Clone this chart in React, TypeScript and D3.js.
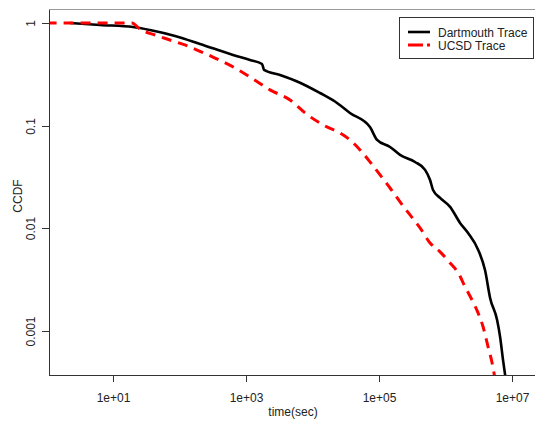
import React, { useEffect, useRef } from 'react';
import * as d3 from 'd3';

// Dartmouth trace (time in sec, CCDF)
const dartTime = [2.25, 6.4, 20, 36, 86, 204, 641, 1156, 1754, 1880, 3273, 6550, 13100, 22000, 37000, 74000, 94600, 148500, 210000, 353000, 500000, 594000, 659000, 841000, 1.19e6, 1.68e6, 2.22e6, 3.14e6, 4.0e6, 4.76e6, 6.07e6, 6.73e6, 7.46e6, 8.4e6];
const dartCcdf = [1, 0.956, 0.914, 0.855, 0.747, 0.625, 0.488, 0.436, 0.399, 0.35, 0.312, 0.262, 0.208, 0.172, 0.133, 0.097, 0.0726, 0.062, 0.0519, 0.0443, 0.0371, 0.0296, 0.0236, 0.0198, 0.0162, 0.0113, 0.009, 0.0062, 0.0039, 0.0021, 0.00128, 0.00088, 0.00052, 0.0003];

// UCSD trace
const ucsdTime = [1, 19.3, 25.5, 43, 72, 121, 204, 343, 687, 1156, 2312, 4630, 7800, 15600, 26200, 37100, 52500, 74200, 105000, 148500, 210000, 297000, 420000, 594000, 841000, 1.19e6, 1.57e6, 2.0e6, 2.55e6, 3.14e6, 3.73e6, 4.44e6, 5.1e6, 5.7e6];
const ucsdCcdf = [1, 1, 0.87, 0.764, 0.683, 0.611, 0.53, 0.456, 0.365, 0.298, 0.223, 0.178, 0.133, 0.0993, 0.0849, 0.0726, 0.058, 0.0443, 0.0331, 0.0247, 0.0181, 0.0135, 0.0101, 0.0072, 0.0059, 0.0046, 0.0037, 0.0027, 0.002, 0.0015, 0.0011, 0.0007, 0.00049, 0.00033];

const xTicks = [10, 1e3, 1e5, 1e7];
const yTicks = [1, 0.1, 0.01, 0.001];
const yTickLabels = ['1', '0.1', '0.01', '0.001'];
const seriesNames = ['Dartmouth Trace', 'UCSD Trace'];

export default function App() {
  const svgRef = useRef<SVGSVGElement>(null);

  useEffect(() => {
    const svg = d3.select(svgRef.current);
    svg.selectAll('*').remove();

    const left = 49, right = 537, top = 10, bottom = 375;
    const font = 'Liberation Sans, Arial, sans-serif';

    const x = d3.scaleLog().domain([10, 1e7]).range([113, 511.5]);
    const y = d3.scaleLog().domain([1, 0.001]).range([23, 331]);

    svg.append('clipPath').attr('id', 'plotclip')
      .append('rect').attr('x', left).attr('y', top).attr('width', right - left).attr('height', bottom - top);

    const line = d3.line<[number, number]>().x(d => x(d[0])).y(d => y(d[1])).curve(d3.curveMonotoneX);

    const dart = dartTime.map((t, i) => [t, dartCcdf[i]] as [number, number]);
    const ucsd = ucsdTime.map((t, i) => [t, ucsdCcdf[i]] as [number, number]);

    const g = svg.append('g').attr('clip-path', 'url(#plotclip)');
    g.append('path').attr('d', line(dart)).attr('fill', 'none')
      .attr('stroke', '#000').attr('stroke-width', 2.6).attr('stroke-linejoin', 'round');
    g.append('path').attr('d', line(ucsd)).attr('fill', 'none')
      .attr('stroke', '#ff0000').attr('stroke-width', 3).attr('stroke-dasharray', '10,7');

    // box
    svg.append('line').attr('x1', left).attr('x2', right).attr('y1', top - 0.5).attr('y2', top - 0.5)
      .attr('stroke', '#999');
    svg.append('line').attr('x1', left + 0.5).attr('x2', left + 0.5).attr('y1', top).attr('y2', bottom)
      .attr('stroke', '#333');
    svg.append('line').attr('x1', left).attr('x2', right).attr('y1', bottom + 0.5).attr('y2', bottom + 0.5)
      .attr('stroke', '#333');

    // x axis
    const xa = svg.append('g');
    xTicks.forEach(t => {
      const px = Math.round(x(t)) + 0.5;
      xa.append('line').attr('x1', px).attr('x2', px).attr('y1', bottom).attr('y2', bottom + 7).attr('stroke', '#333');
      xa.append('text').attr('x', px).attr('y', 402).attr('text-anchor', 'middle')
        .attr('font-family', font).attr('font-size', 12).attr('fill', '#222')
        .text(`1e+${String(Math.round(Math.log10(t))).padStart(2, '0')}`);
    });

    // y axis
    const ya = svg.append('g');
    yTicks.forEach((t, i) => {
      const py = Math.round(y(t)) + 0.5;
      ya.append('line').attr('x1', left - 7).attr('x2', left).attr('y1', py).attr('y2', py).attr('stroke', '#333');
      ya.append('text').attr('transform', `translate(34.5,${py}) rotate(-90)`).attr('text-anchor', 'middle')
        .attr('font-family', font).attr('font-size', 12).attr('fill', '#222')
        .text(yTickLabels[i]);
    });

    svg.append('text').attr('x', (left + right) / 2).attr('y', 416).attr('text-anchor', 'middle')
      .attr('font-family', font).attr('font-size', 12).attr('fill', '#222').text('time(sec)');
    svg.append('text').attr('transform', 'translate(22,196) rotate(-90)').attr('text-anchor', 'middle')
      .attr('font-family', font).attr('font-size', 12).attr('fill', '#222').text('CCDF');

    // legend
    const lg = svg.append('g');
    lg.append('rect').attr('x', 399.5).attr('y', 17.5).attr('width', 134).attr('height', 41)
      .attr('fill', '#fff').attr('stroke', '#333');
    seriesNames.forEach((name, i) => {
      const ly = 32 + i * 13;
      lg.append('line').attr('x1', 408).attr('x2', 430).attr('y1', ly).attr('y2', ly)
        .attr('stroke', i === 0 ? '#000' : '#ff0000').attr('stroke-width', i === 0 ? 2.6 : 3)
        .attr('stroke-dasharray', i === 0 ? null : '15,4');
      lg.append('text').attr('x', 438).attr('y', ly + 4.5)
        .attr('font-family', font).attr('font-size', 12).attr('fill', '#222').text(name);
    });
  }, []);

  return (
    <svg ref={svgRef} width={535} height={421}
      style={{ position: 'absolute', left: 0, top: 0, background: '#fff' }} />
  );
}
